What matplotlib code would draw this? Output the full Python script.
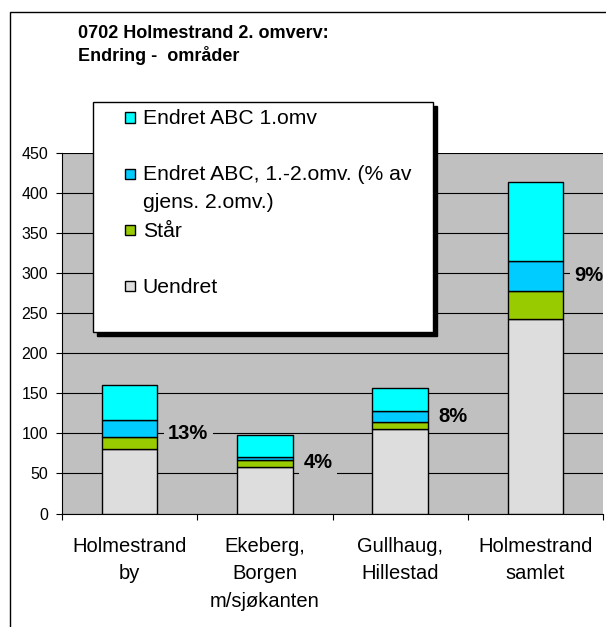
import matplotlib
matplotlib.use("Agg")
import matplotlib.pyplot as plt
from matplotlib.patches import Rectangle
from matplotlib.legend_handler import HandlerPatch

plt.rcParams['font.family'] = ['Liberation Sans', 'DejaVu Sans']

# data
categories = ["Holmestrand\nby", "Ekeberg,\nBorgen\nm/sjøkanten",
              "Gullhaug,\nHillestad", "Holmestrand\nsamlet"]
uendret = [80, 58, 105, 243]
staar = [16, 9, 9, 34]
endret_12 = [20, 3, 14, 38]
endret_1 = [44, 28, 28, 99]
pct_labels = ["13%", "4%", "8%", "9%"]
pct_y = [100, 64, 121, 297]

series_names = ["Uendret", "Står",
                "Endret ABC, 1.-2.omv. (% av\ngjens. 2.omv.)",
                "Endret ABC 1.omv"]
series_colors = ["#dddddd", "#99cc00", "#00ccff", "#00ffff"]

W, H = 606, 627
fig = plt.figure(figsize=(W / 100, H / 100), dpi=100)

# chart border (only left and top edges fall inside the picture)
fig.add_artist(Rectangle((10 / W, -0.2), 1.2, 1.2 - 12 / H, transform=fig.transFigure,
                         fill=False, edgecolor="black", linewidth=1.0))

ax = fig.add_axes([62 / W, (H - 513.5) / H, (603 - 62) / W, (513.5 - 152.7) / H])
ax.set_facecolor("#c0c0c0")

x = list(range(len(categories)))
bottom = [0] * len(x)
bars = []
for vals, name, col in zip([uendret, staar, endret_12, endret_1], series_names, series_colors):
    b = ax.bar(x, vals, width=0.41, bottom=bottom, color=col, edgecolor="black",
               linewidth=1.0, label=name, zorder=3)
    bars.append(b)
    bottom = [s + v for s, v in zip(bottom, vals)]

# percentage labels to the right of each bar
for i, (txt, yv) in enumerate(zip(pct_labels, pct_y)):
    ax.text(i + 0.285, yv, txt, ha="left", va="center", fontsize=14.5, fontweight="bold",
            zorder=4, clip_on=True,
            bbox=dict(facecolor="#c0c0c0", edgecolor="none", pad=3))

ax.set_xlim(-0.5, 3.5)
ax.set_ylim(0, 450)
ax.set_yticks(range(0, 451, 50))
ax.yaxis.grid(True, color="black", linewidth=0.8)
ax.set_axisbelow(True)
ax.tick_params(axis="y", direction="out", length=4, width=0.8, labelsize=11.5, pad=6)

ax.set_xticks([-0.5, 0.5, 1.5, 2.5, 3.5])
ax.set_xticklabels([])
ax.set_xticks(x, categories, minor=True)
ax.tick_params(axis="x", which="major", direction="out", length=4, width=0.8)
ax.tick_params(axis="x", which="minor", length=0, labelsize=14.5, pad=17)
for lbl in ax.get_xticklabels(minor=True):
    lbl.set_linespacing(1.55)
    lbl.set_verticalalignment("top")

for side in ["top", "right"]:
    ax.spines[side].set_visible(False)
for side in ["left", "bottom"]:
    ax.spines[side].set_linewidth(0.8)

fig.text(78 / W, 1 - 25 / H, "0702 Holmestrand 2. omverv:\nEndring -  områder",
         fontsize=13, fontweight="bold", va="top", ha="left", linespacing=1.25)


# legend: square marker sits on the first line of each (two-line) label
def square_patch(legend, orig_handle, xdescent, ydescent, width, height, fontsize):
    s = 0.5 * fontsize
    return Rectangle((width - s - xdescent, 1.06 * fontsize - s / 2), s, s)


handles = [b.patches[0] for b in bars[::-1]]
labels = [n if "\n" in n else n + "\n " for n in series_names[::-1]]
leg = ax.legend(handles, labels, loc="upper left",
                bbox_to_anchor=(93 / W, 1 - 102 / H, (433 - 93) / W, 0),
                bbox_transform=fig.transFigure, mode="expand", borderaxespad=0,
                fontsize=15.2, frameon=True, fancybox=False, framealpha=1,
                edgecolor="black", borderpad=0.35, handlelength=1.66,
                handletextpad=0.35, labelspacing=0.46,
                shadow={"ox": 3, "oy": -3, "color": "black", "alpha": 1},
                handler_map={Rectangle: HandlerPatch(patch_func=square_patch)})
leg.get_frame().set_linewidth(1.0)
leg.set_zorder(10)
for t in leg.get_texts():
    t.set_linespacing(1.56)

fig.savefig("out.png", dpi=100)
